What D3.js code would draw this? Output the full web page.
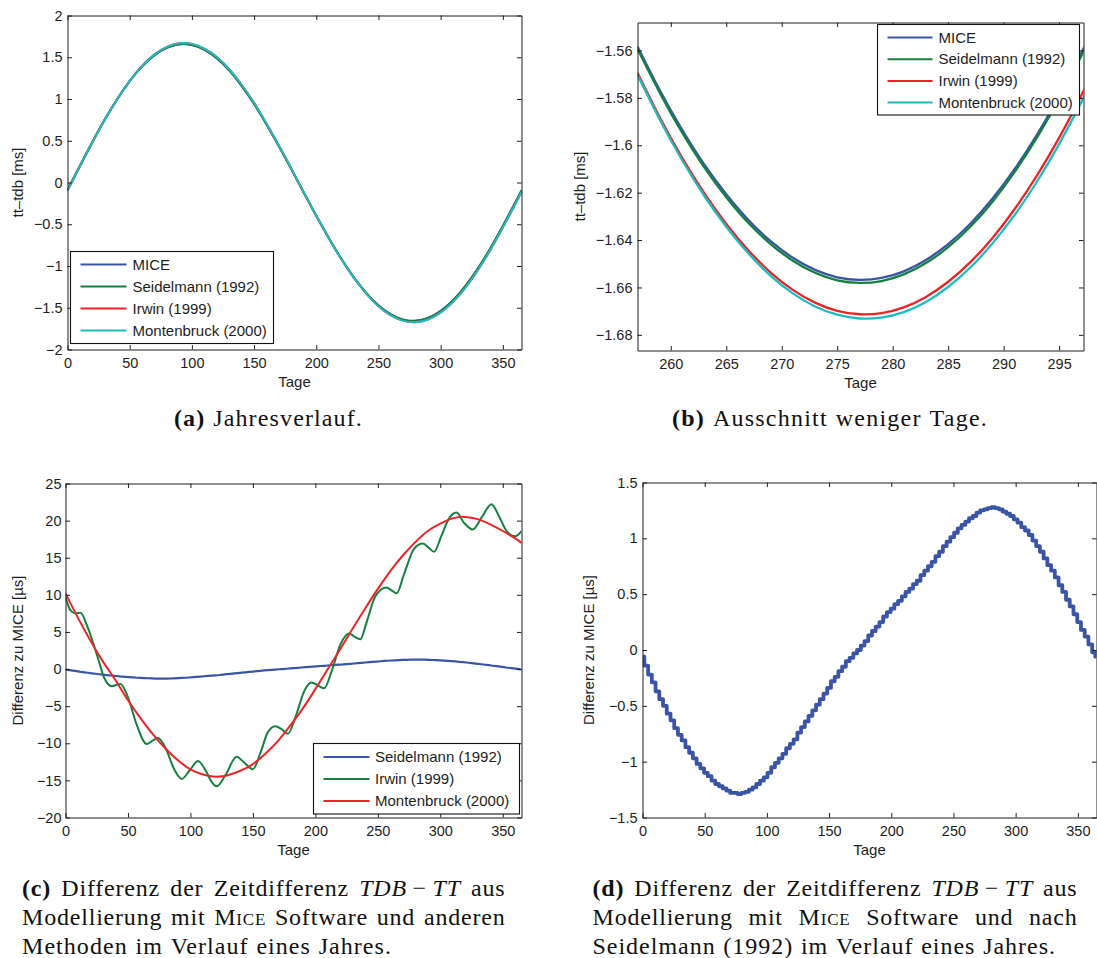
<!DOCTYPE html>
<html>
<head>
<meta charset="utf-8">
<script src="https://cdn.jsdelivr.net/npm/d3@7"></script>
<style>
  body { margin: 0; background: #fff; }
  svg { display: block; }
</style>
</head>
<body>
<svg id="fig" width="1097" height="958"></svg>
<script>
// ---------- data ----------
// (a) annual course of tt-tdb [ms], sampled every 10 days
const daysA = [0,10,20,30,40,50,60,70,80,90,100,110,120,130,140,150,160,170,180,190,200,210,220,230,240,250,260,270,280,290,300,310,320,330,340,350,360,365];
const miceA = [-0.087,0.202,0.485,0.753,0.998,1.213,1.390,1.525,1.614,1.655,1.646,1.590,1.487,1.342,1.157,0.940,0.696,0.433,0.158,-0.123,-0.399,-0.664,-0.911,-1.131,-1.320,-1.471,-1.579,-1.642,-1.656,-1.622,-1.538,-1.409,-1.237,-1.027,-0.786,-0.520,-0.239,-0.094];
const seidelA = [-0.087,0.202,0.486,0.754,0.999,1.214,1.391,1.526,1.615,1.656,1.647,1.591,1.488,1.343,1.157,0.940,0.696,0.433,0.158,-0.123,-0.399,-0.664,-0.912,-1.132,-1.321,-1.472,-1.580,-1.643,-1.657,-1.623,-1.539,-1.410,-1.238,-1.028,-0.786,-0.520,-0.239,-0.094];
const irwinA = [-0.097,0.195,0.480,0.754,1.000,1.217,1.399,1.535,1.625,1.669,1.660,1.603,1.503,1.356,1.169,0.954,0.705,0.441,0.166,-0.120,-0.397,-0.663,-0.914,-1.136,-1.326,-1.481,-1.590,-1.654,-1.672,-1.638,-1.556,-1.430,-1.257,-1.047,-0.808,-0.540,-0.257,-0.113];
const montA = [-0.097,0.195,0.481,0.752,1.000,1.217,1.397,1.534,1.625,1.667,1.660,1.604,1.502,1.356,1.171,0.953,0.707,0.443,0.166,-0.118,-0.396,-0.664,-0.914,-1.137,-1.328,-1.482,-1.592,-1.657,-1.673,-1.641,-1.558,-1.429,-1.258,-1.047,-0.806,-0.539,-0.257,-0.111];

// (b) close-up around the minimum, every 2 days
const daysB = [257,259,261,263,265,267,269,271,273,275,277,279,281,283,285,287,289,291,293,295,297,299];
const miceB = [-1.5583,-1.5767,-1.5933,-1.6080,-1.6207,-1.6316,-1.6405,-1.6475,-1.6526,-1.6557,-1.6568,-1.6560,-1.6532,-1.6484,-1.6417,-1.6331,-1.6225,-1.6100,-1.5956,-1.5793,-1.5611,-1.5411];
const seidelB = [-1.5594,-1.5778,-1.5945,-1.6092,-1.6219,-1.6328,-1.6417,-1.6487,-1.6538,-1.6570,-1.6581,-1.6573,-1.6545,-1.6497,-1.6430,-1.6344,-1.6238,-1.6112,-1.5968,-1.5805,-1.5623,-1.5423];
const irwinB = [-1.5694,-1.5882,-1.6051,-1.6201,-1.6332,-1.6444,-1.6537,-1.6610,-1.6664,-1.6699,-1.6713,-1.6708,-1.6684,-1.6640,-1.6576,-1.6493,-1.6391,-1.6269,-1.6128,-1.5969,-1.5790,-1.5594];
const montB = [-1.5703,-1.5891,-1.6061,-1.6212,-1.6344,-1.6457,-1.6551,-1.6625,-1.6680,-1.6715,-1.6731,-1.6727,-1.6704,-1.6661,-1.6598,-1.6516,-1.6414,-1.6294,-1.6154,-1.5995,-1.5818,-1.5622];

// (c)/(d) difference to MICE [µs]
const seidelDiffDays = [0,3,6,9,12,15,18,21,24,27,30,33,36,39,42,45,48,51,54,57,60,63,66,69,72,75,78,81,84,87,90,93,96,99,102,105,108,111,114,117,120,123,126,129,132,135,138,141,144,147,150,153,156,159,162,165,168,171,174,177,180,183,186,189,192,195,198,201,204,207,210,213,216,219,222,225,228,231,234,237,240,243,246,249,252,255,258,261,264,267,270,273,276,279,282,285,288,291,294,297,300,303,306,309,312,315,318,321,324,327,330,333,336,339,342,345,348,351,354,357,360,363,365];
const seidelDiff = [-0.06,-0.14,-0.22,-0.29,-0.37,-0.44,-0.50,-0.57,-0.63,-0.70,-0.76,-0.81,-0.87,-0.92,-0.97,-1.02,-1.06,-1.10,-1.13,-1.17,-1.20,-1.22,-1.24,-1.26,-1.28,-1.28,-1.29,-1.28,-1.27,-1.25,-1.23,-1.20,-1.17,-1.14,-1.10,-1.05,-1.01,-0.97,-0.93,-0.88,-0.84,-0.80,-0.74,-0.69,-0.64,-0.59,-0.54,-0.49,-0.44,-0.39,-0.34,-0.28,-0.24,-0.19,-0.15,-0.10,-0.07,-0.03,0.00,0.04,0.08,0.13,0.17,0.21,0.25,0.30,0.34,0.37,0.41,0.44,0.48,0.52,0.55,0.59,0.62,0.67,0.71,0.75,0.79,0.84,0.88,0.93,0.97,1.01,1.05,1.09,1.12,1.15,1.18,1.20,1.23,1.25,1.26,1.27,1.28,1.27,1.26,1.24,1.22,1.20,1.17,1.14,1.10,1.07,1.03,0.98,0.93,0.88,0.82,0.76,0.71,0.65,0.58,0.52,0.45,0.39,0.32,0.25,0.18,0.12,0.05,-0.02,-0.06];
const irwinDiffDays = [0,4,8,12,18,25,31,37,44,50,57,65,70,74,80,87,93,100,106,112,117,121,128,137,143,150,156,162,168,173,178,185,191,197,202,207,213,220,227,231,236,241,248,257,261,265,271,279,286,291,295,301,307,313,319,326,333,341,347,353,360,365];
const irwinDiff = [9.7,7.9,7.5,7.6,5.5,2.0,-1.2,-2.3,-2.0,-3.8,-7.5,-10.1,-9.6,-9.3,-10.6,-13.5,-14.8,-13.5,-12.4,-13.6,-15.2,-15.8,-14.3,-11.8,-12.6,-13.5,-11.3,-8.5,-7.7,-8.1,-8.7,-6.0,-3.0,-1.8,-2.2,-2.6,-0.3,3.3,4.8,4.4,4.0,6.3,9.8,11.0,10.6,10.2,12.8,16.2,16.9,16.3,15.8,18.0,20.3,21.1,19.7,18.8,20.4,22.2,20.6,18.6,17.9,18.6];
const montDiff = [10.2,6.9,3.8,1.0,-1.5,-4.2,-6.6,-8.8,-10.7,-12.3,-13.5,-14.2,-14.5,-14.3,-13.7,-12.8,-11.4,-9.7,-7.6,-5.3,-2.7,0.0,2.7,5.5,8.2,10.8,13.2,15.3,17.1,18.6,19.6,20.3,20.5,20.2,19.5,18.6,17.6,17.0];

// tick values
const ticksDayYear = [0,50,100,150,200,250,300,350];
const ticksDayZoom = [260,265,270,275,280,285,290,295];
const ticksA = [-2,-1.5,-1,-0.5,0,0.5,1,1.5,2];
const ticksB = [-1.68,-1.66,-1.64,-1.62,-1.6,-1.58,-1.56];
const ticksC = [-20,-15,-10,-5,0,5,10,15,20,25];
const ticksD = [-1.5,-1,-0.5,0,0.5,1,1.5];

// series names and colours
const namesAll = ["MICE", "Seidelmann (1992)", "Irwin (1999)", "Montenbruck (2000)"];
const namesDiff = ["Seidelmann (1992)", "Irwin (1999)", "Montenbruck (2000)"];
const colorMice = "#3a55a6", colorSeidel = "#15803f", colorIrwin = "#ec2427", colorMont = "#1cbcc1";

// ---------- drawing ----------
const svg = d3.select("#fig");
const AX_FONT = "'Liberation Sans', Arial, Helvetica, sans-serif";
const SERIF = "'Liberation Serif', 'Times New Roman', serif";
const INK = "#1e1e1e";
const fmt = d3.format("~g");

function makePanel(cfg) {
  const {x0, x1, y0, y1} = cfg.box;
  const x = d3.scaleLinear().domain(cfg.xDomain).range([x0, x1]);
  const y = d3.scaleLinear().domain(cfg.yDomain).range([y1, y0]);
  const clipId = "clip-" + cfg.id;
  svg.append("clipPath").attr("id", clipId)
    .append("rect").attr("x", x0).attr("y", y0).attr("width", x1 - x0).attr("height", y1 - y0);
  const plot = svg.append("g").attr("clip-path", `url(#${clipId})`);
  const axes = svg.append("g").style("color", INK);
  const T = 4.5, FS = 14.5;

  const styleAxis = g => g.attr("font-family", AX_FONT).attr("font-size", FS)
    .call(s => s.selectAll("text").attr("fill", INK))
    .call(s => s.select(".domain").attr("stroke-width", 1));

  axes.append("g").attr("transform", `translate(0,${y1})`)
    .call(d3.axisBottom(x).tickValues(cfg.xTicks).tickSize(-T).tickSizeOuter(0).tickPadding(8).tickFormat(fmt))
    .call(styleAxis);
  axes.append("g").attr("transform", `translate(0,${y0})`)
    .call(d3.axisTop(x).tickValues(cfg.xTicks).tickSize(-T).tickSizeOuter(0).tickFormat(""))
    .call(styleAxis);
  axes.append("g").attr("transform", `translate(${x0},0)`)
    .call(d3.axisLeft(y).tickValues(cfg.yTicks).tickSize(-T).tickSizeOuter(0).tickPadding(cfg.pad || 5).tickFormat(fmt))
    .call(styleAxis);
  axes.append("g").attr("transform", `translate(${x1},0)`)
    .call(d3.axisRight(y).tickValues(cfg.yTicks).tickSize(-T).tickSizeOuter(0).tickFormat(""))
    .call(styleAxis);

  // axis titles
  svg.append("text").attr("x", (x0 + x1) / 2).attr("y", y1 + 32.5).attr("dy", "0.35em")
    .attr("text-anchor", "middle").attr("font-family", AX_FONT).attr("font-size", 15).attr("fill", INK)
    .text("Tage");
  svg.append("text")
    .attr("transform", `translate(${cfg.ylabelX},${(y0 + y1) / 2}) rotate(-90)`)
    .attr("dy", "0.35em").attr("text-anchor", "middle")
    .attr("font-family", AX_FONT).attr("font-size", 15).attr("fill", INK)
    .text(cfg.ylabel);

  return {x, y, plot, axes};
}

function drawLine(p, days, vals, color, curve, width) {
  p.plot.append("path")
    .datum(days.map((d, i) => [d, vals[i]]))
    .attr("fill", "none").attr("stroke", color).attr("stroke-width", width || 2)
    .attr("stroke-linejoin", "round")
    .attr("d", d3.line().x(d => p.x(d[0])).y(d => p.y(d[1])).curve(curve || d3.curveNatural));
}

function legend(box, names, colors, lineX0, lineX1, textX, rowY0, rowStep) {
  const g = svg.append("g").attr("font-family", AX_FONT).attr("font-size", 15);
  g.append("rect").attr("x", box.x).attr("y", box.y).attr("width", box.w).attr("height", box.h)
    .attr("fill", "#fff").attr("stroke", "#111").attr("stroke-width", 1.1);
  names.forEach((n, i) => {
    const yy = rowY0 + i * rowStep;
    g.append("line").attr("x1", lineX0).attr("x2", lineX1).attr("y1", yy).attr("y2", yy)
      .attr("stroke", colors[i]).attr("stroke-width", 2);
    g.append("text").attr("x", textX).attr("y", yy).attr("dy", "0.35em").attr("fill", INK).text(n);
  });
}

// (a) Jahresverlauf
const pa = makePanel({
  id: "a", box: {x0: 67.5, x1: 521.5, y0: 15.5, y1: 349.5},
  xDomain: [0, 365], yDomain: [-2, 2], xTicks: ticksDayYear, yTicks: ticksA,
  ylabel: "tt\u2013tdb [ms]", ylabelX: 18
});
drawLine(pa, daysA, miceA, colorMice);
drawLine(pa, daysA, seidelA, colorSeidel);
drawLine(pa, daysA, irwinA, colorIrwin);
drawLine(pa, daysA, montA, colorMont);
legend({x: 70.5, y: 251.5, w: 203, h: 92}, namesAll, [colorMice, colorSeidel, colorIrwin, colorMont],
  80.5, 126.5, 132.5, 264.5, 22);

// (b) Ausschnitt weniger Tage
const pb = makePanel({
  id: "b", box: {x0: 637.5, x1: 1083.5, y0: 22.5, y1: 350.5},
  xDomain: [257, 297.2], yDomain: [-1.6866, -1.5482], xTicks: ticksDayZoom, yTicks: ticksB,
  ylabel: "tt\u2013tdb [ms]", ylabelX: 580
});
drawLine(pb, daysB, miceB, colorMice, d3.curveNatural, 2.3);
drawLine(pb, daysB, seidelB, colorSeidel, d3.curveNatural, 2.3);
drawLine(pb, daysB, irwinB, colorIrwin, d3.curveNatural, 2.3);
drawLine(pb, daysB, montB, colorMont, d3.curveNatural, 2.3);
legend({x: 877.5, y: 24.5, w: 202, h: 90.5}, namesAll, [colorMice, colorSeidel, colorIrwin, colorMont],
  887.5, 932.5, 938.5, 37.5, 21.7);

// (c) differences of the models to MICE
const pc = makePanel({
  id: "c", box: {x0: 65.5, x1: 521.5, y0: 483.5, y1: 817.5},
  xDomain: [0, 365], yDomain: [-20, 25], xTicks: ticksDayYear, yTicks: ticksC, pad: 4,
  ylabel: "Differenz zu MICE [\u00b5s]", ylabelX: 18
});
drawLine(pc, seidelDiffDays, seidelDiff, colorMice, d3.curveLinear, 2.2);
drawLine(pc, irwinDiffDays, irwinDiff, colorSeidel, d3.curveMonotoneX, 2);
drawLine(pc, daysA, montDiff, colorIrwin, d3.curveNatural, 2);
legend({x: 313.5, y: 743.5, w: 206, h: 70.5}, namesDiff, [colorMice, colorSeidel, colorIrwin],
  323.5, 369.5, 375, 757, 22);

// (d) Seidelmann minus MICE
const pd = makePanel({
  id: "d", box: {x0: 642.5, x1: 1096.5, y0: 482.5, y1: 817.5},
  xDomain: [0, 365], yDomain: [-1.5, 1.5], xTicks: ticksDayYear, yTicks: ticksD,
  ylabel: "Differenz zu MICE [\u00b5s]", ylabelX: 589
});
drawLine(pd, seidelDiffDays, seidelDiff, colorMice, d3.curveStep, 3.8);

// ---------- captions ----------
const CAP_FS = 24;
const w = s => [{t: s}];
const bold = s => [{t: s, b: 1}];
const math = [{t: "TDB", i: 1}, {t: "\u2009\u2212\u2009"}, {t: "TT", i: 1}];
const sc = s => [{t: s, sc: 1}];
const words = str => str.split(" ").map(w);

function captionLine(spec) {
  const g = svg.append("g").attr("font-family", SERIF).attr("font-size", CAP_FS).attr("fill", "#111");
  const texts = spec.tokens.map(tok => {
    const t = g.append("text").attr("y", spec.y).attr("dy", "0.35em");
    tok.forEach(p => {
      const s = t.append("tspan").text(p.t);
      if (p.b) s.attr("font-weight", "bold");
      if (p.i) s.attr("font-style", "italic");
      if (p.sc) s.attr("font-variant", "small-caps");
    });
    return t;
  });
  const spaceW = CAP_FS * 0.28;
  const widths = () => texts.map(t => t.node().getComputedTextLength());
  let ls = 0.8;
  if (!spec.justify) {
    const nat = d3.sum(widths()) + spaceW * (texts.length - 1);
    const chars = d3.sum(spec.tokens, tok => d3.sum(tok, p => p.t.length)) + texts.length - 1;
    ls = (spec.x1 - spec.x0 - nat) / chars;
  }
  texts.forEach(t => t.attr("letter-spacing", ls));
  const wd = widths();
  const gap = spec.justify ? (spec.x1 - spec.x0 - d3.sum(wd)) / (texts.length - 1) : spaceW + ls;
  let xx = spec.x0;
  texts.forEach((t, i) => { t.attr("x", xx); xx += wd[i] + gap; });
}

captionLine({x0: 174, x1: 363, y: 418, tokens: [bold("(a)"), ...words("Jahresverlauf.")]});
captionLine({x0: 672, x1: 988, y: 418, tokens: [bold("(b)"), ...words("Ausschnitt weniger Tage.")]});

captionLine({x0: 22, x1: 505.5, y: 888, justify: true,
  tokens: [bold("(c)"), ...words("Differenz der Zeitdifferenz"), math, w("aus")]});
captionLine({x0: 22, x1: 505.5, y: 917, justify: true,
  tokens: [...words("Modellierung mit"), sc("Mice"), ...words("Software und anderen")]});
captionLine({x0: 22, x1: 392, y: 946, tokens: words("Methoden im Verlauf eines Jahres.")});

captionLine({x0: 592.5, x1: 1077.5, y: 888, justify: true,
  tokens: [bold("(d)"), ...words("Differenz der Zeitdifferenz"), math, w("aus")]});
captionLine({x0: 592.5, x1: 1077.5, y: 917, justify: true,
  tokens: [...words("Modellierung mit"), sc("Mice"), ...words("Software und nach")]});
captionLine({x0: 592.5, x1: 1056, y: 946, tokens: words("Seidelmann (1992) im Verlauf eines Jahres.")});
</script>
</body>
</html>
